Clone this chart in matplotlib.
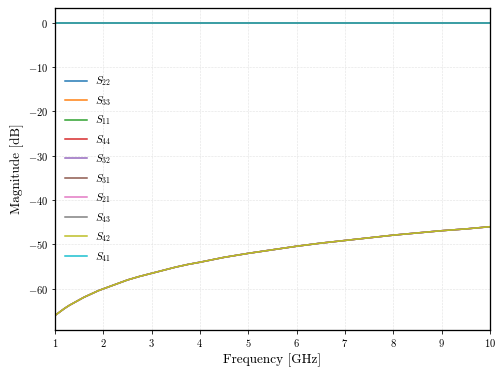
import matplotlib
matplotlib.use("Agg")
import matplotlib.pyplot as plt

plt.rcParams['font.family'] = 'serif'
plt.rcParams['font.serif'] = ['cmr10', 'DejaVu Serif']
plt.rcParams['mathtext.fontset'] = 'cm'
plt.rcParams['axes.formatter.use_mathtext'] = True

freq = [1.0, 1.1, 1.2, 1.3, 1.4, 1.5, 1.6, 1.7, 1.8, 1.9, 2.0, 2.25, 2.5,
        2.75, 3.0, 3.25, 3.5, 3.75, 4.0, 4.5, 5.0, 5.5, 6.0, 6.5, 7.0, 7.5,
        8.0, 8.5, 9.0, 9.5, 10.0]
refl_db = [0.0] * len(freq)
trans_db = [-66.0, -65.2, -64.4, -63.7, -63.1, -62.5, -61.9, -61.4, -60.9,
            -60.4, -60.0, -59.0, -58.0, -57.2, -56.5, -55.8, -55.1, -54.5,
            -54.0, -52.9, -52.0, -51.2, -50.4, -49.7, -49.1, -48.5, -47.9,
            -47.4, -46.9, -46.5, -46.0]

labels = ['S22', 'S33', 'S11', 'S44', 'S32', 'S31', 'S21', 'S43', 'S42', 'S41']
series = [refl_db, refl_db, refl_db, refl_db, trans_db, trans_db, trans_db,
          trans_db, trans_db, refl_db]
colors = ['#1f77b4', '#ff7f0e', '#2ca02c', '#d62728', '#9467bd', '#8c564b',
          '#e377c2', '#7f7f7f', '#bcbd22', '#17becf']

fig, ax = plt.subplots(figsize=(7.0, 376/72), dpi=72)
fig.subplots_adjust(left=0.109, right=0.972, top=0.979, bottom=0.122)

for lab, ys, c in zip(labels, series, colors):
    ax.plot(freq, ys, color=c, lw=1.5, label=r'$S_{%s}$' % lab[1:])

ax.set_xlim(1, 10)
ax.set_xticks(range(1, 11))
ax.set_yticks([0, -10, -20, -30, -40, -50, -60])
ax.grid(True, color='#dddddd', lw=0.6, ls='--', alpha=0.8)
for s in ax.spines.values():
    s.set_linewidth(1.3)
ax.tick_params(labelsize=10.5)
ax.set_xlabel('Frequency [GHz]', fontsize=13.3)
ax.set_ylabel('Magnitude [dB]', fontsize=13.3)
ax.legend(loc='center left', frameon=False, fontsize=11, handlelength=2.0,
          labelspacing=0.51, handletextpad=0.7)

fig.savefig('out.png', dpi=72)
